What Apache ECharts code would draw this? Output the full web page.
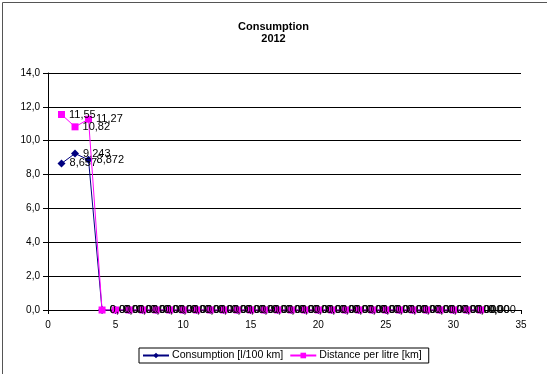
<!DOCTYPE html>
<html><head><meta charset="utf-8">
<script src="https://cdn.jsdelivr.net/npm/echarts@6/dist/echarts.min.js"></script>
<style>html,body{margin:0;padding:0;background:#fff}#c{width:547px;height:374px}</style>
</head><body><div id="c"></div>
<script>
var xValues = [1,2,3,4,5,6,7,8,9,10,11,12,13,14,15,16,17,18,19,20,21,22,23,24,25,26,27,28,29,30,31,32];
var consumption = [8.657,9.243,8.872,0,0,0,0,0,0,0,0,0,0,0,0,0,0,0,0,0,0,0,0,0,0,0,0,0,0,0,0,0];
var distance = [11.55,10.82,11.27,0,0,0,0,0,0,0,0,0,0,0,0,0,0,0,0,0,0,0,0,0,0,0,0,0,0,0,0,0];
var seriesNames = ['Consumption [l/100 km]', 'Distance per litre [km]'];
var titleLines = ['Consumption', '2012'];

var FONT = 'Liberation Sans';
function pairs(vals){ return xValues.map(function(x,i){ return [x, vals[i]]; }); }
function fmt(dec){ return function(p){ return p.value[1].toFixed(dec).replace('.', ','); }; }

var chart = echarts.init(document.getElementById('c'), null, {renderer:'canvas'});
chart.setOption({
  animation: false,
  backgroundColor: '#fff',
  title: {
    text: titleLines.join('\n'),
    left: 'center', top: 16,
    textStyle: {fontFamily: FONT, fontSize: 11, fontWeight: 'bold', color: '#000', lineHeight: 12}
  },
  grid: {left: 48, right: 26, top: 73, bottom: 64},
  xAxis: {
    type: 'value', min: 0, max: 35, interval: 5,
    axisLine: {lineStyle: {color: '#000', width: 1}},
    axisTick: {show: true, length: 4, lineStyle: {color: '#000'}},
    axisLabel: {fontFamily: FONT, fontSize: 10, color: '#000', margin: 10},
    splitLine: {show: false}
  },
  yAxis: {
    type: 'value', min: 0, max: 14, interval: 2,
    axisLine: {show: true, lineStyle: {color: '#000', width: 1}},
    axisTick: {show: true, length: 5, lineStyle: {color: '#000'}},
    axisLabel: {fontFamily: FONT, fontSize: 10, color: '#000', margin: 8,
      formatter: function(v){ return v.toFixed(1).replace('.', ','); }},
    splitLine: {show: true, lineStyle: {color: '#000', width: 1}}
  },
  legend: {
    bottom: 11, left: 139,
    borderColor: '#000', borderWidth: 1, padding: [2, 7, 2, 3],
    itemWidth: 26, itemHeight: 7, itemGap: 6,
    textStyle: {fontFamily: FONT, fontSize: 10.6, color: '#000', padding: [0,0,0,-2]},
    data: seriesNames
  },
  series: [
    {
      name: seriesNames[0], type: 'line', data: pairs(consumption),
      symbol: 'diamond', symbolSize: 8, showAllSymbol: true,
      lineStyle: {color: '#000080', width: 1},
      itemStyle: {color: '#000080'},
      label: {show: true, position: 'right', distance: 4, formatter: fmt(3),
        fontFamily: FONT, fontSize: 11, color: '#000'},
      z: 2
    },
    {
      name: seriesNames[1], type: 'line', data: pairs(distance),
      symbol: 'rect', symbolSize: 7, showAllSymbol: true,
      lineStyle: {color: '#ff00ff', width: 1},
      itemStyle: {color: '#ff00ff'},
      label: {show: true, position: 'right', distance: 4, formatter: fmt(2),
        fontFamily: FONT, fontSize: 11, color: '#000'},
      z: 3
    }
  ],
  graphic: [{
    type: 'rect', left: 0, top: 0, silent: true,
    shape: {x: 0.5, y: 0.5, width: 545, height: 372},
    style: {fill: null, stroke: '#555', lineWidth: 1}
  }]
});
</script></body></html>
